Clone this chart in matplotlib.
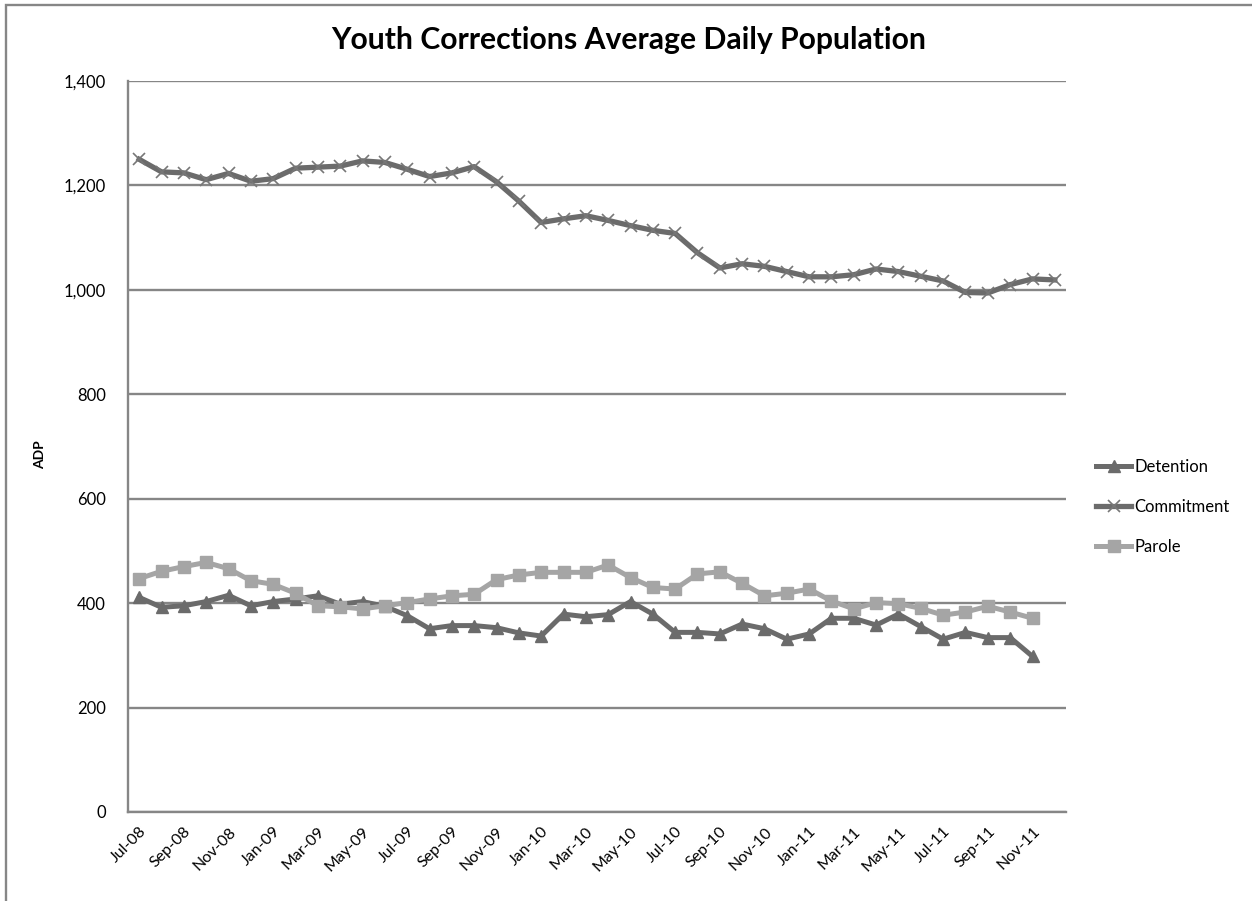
import matplotlib
matplotlib.use("Agg")
import matplotlib.pyplot as plt
from matplotlib.patches import Rectangle

months = ["Jul-08", "Aug-08", "Sep-08", "Oct-08", "Nov-08", "Dec-08",
          "Jan-09", "Feb-09", "Mar-09", "Apr-09", "May-09", "Jun-09",
          "Jul-09", "Aug-09", "Sep-09", "Oct-09", "Nov-09", "Dec-09",
          "Jan-10", "Feb-10", "Mar-10", "Apr-10", "May-10", "Jun-10",
          "Jul-10", "Aug-10", "Sep-10", "Oct-10", "Nov-10", "Dec-10",
          "Jan-11", "Feb-11", "Mar-11", "Apr-11", "May-11", "Jun-11",
          "Jul-11", "Aug-11", "Sep-11", "Oct-11", "Nov-11", "Dec-11"]

detention = [411, 392, 395, 403, 415, 395, 403, 408, 414, 398, 403, 394,
             376, 351, 357, 357, 353, 343, 337, 379, 374, 378, 403, 379,
             344, 344, 341, 360, 351, 331, 341, 371, 371, 358, 379, 355,
             331, 344, 334, 334, 298]

commitment = [1250, 1226, 1224, 1211, 1223, 1208, 1213, 1233, 1235, 1237,
              1247, 1244, 1231, 1217, 1224, 1236, 1207, 1170, 1129, 1136,
              1142, 1133, 1123, 1114, 1108, 1071, 1042, 1050, 1045, 1035,
              1025, 1025, 1029, 1040, 1035, 1026, 1017, 995, 994, 1010,
              1021, 1019]

parole = [447, 461, 470, 478, 466, 443, 436, 419, 395, 393, 389, 395,
          401, 408, 414, 417, 445, 454, 459, 459, 459, 473, 449, 430,
          427, 456, 460, 438, 414, 419, 427, 404, 389, 401, 399, 390,
          377, 383, 394, 383, 371]

yticks = [0, 200, 400, 600, 800, 1000, 1200, 1400]

FONT = ["Lato", "DejaVu Sans"]
plt.rcParams["font.family"] = FONT

W, H = 1252, 901
fig = plt.figure(figsize=(W / 100, H / 100), dpi=100)
ax = fig.add_axes([128 / W, 1 - 812 / H, (1066 - 128) / W, (812 - 81) / H])

grid_c = "#868686"
dark = "#6b6b6b"
light = "#a5a5a5"

x_all = list(range(len(months)))
ax.plot(x_all[:len(detention)], detention, color=dark, lw=3.6, marker="^",
        markersize=8, markerfacecolor=dark, markeredgecolor=dark, label="Detention", zorder=3)
ax.plot(x_all[:len(commitment)], commitment, color=dark, lw=3.8, marker="x",
        markersize=8, markeredgewidth=1.2, markeredgecolor="#777777", label="Commitment", zorder=3)
ax.plot(x_all[:len(parole)], parole, color=light, lw=3.6, marker="s",
        markersize=8, markerfacecolor=light, markeredgecolor=light, label="Parole", zorder=3)

ax.set_xlim(-0.5, len(months) - 0.5)
ax.set_ylim(0, 1400)
ax.set_yticks(yticks)
ax.set_yticklabels([f"{v:,}" for v in yticks], fontsize=12)
ax.yaxis.grid(True, color=grid_c, lw=1.7)
ax.set_axisbelow(True)

ax.set_xticks(x_all[::2])
ax.set_xticklabels(months[::2], rotation=45, ha="right", va="top",
                   rotation_mode="anchor", fontsize=11.5)
ax.tick_params(axis="both", length=0)
ax.tick_params(axis="y", pad=16)
ax.tick_params(axis="x", pad=9)

for s in ["top", "right"]:
    ax.spines[s].set_visible(False)
for s in ["left", "bottom"]:
    ax.spines[s].set_color(grid_c)
    ax.spines[s].set_linewidth(1.7)

fig.text(40 / W, 1 - 455 / H, "ADP", rotation=90, ha="center", va="center",
         fontsize=10, fontweight="bold")

fig.text(629 / W, 1 - 40 / H, "Youth Corrections Average Daily Population",
         ha="center", va="center", fontsize=21.7, fontweight="bold")

fig.legend(loc="upper left", bbox_to_anchor=(1096 / W, 1 - 459 / H),
           frameon=False, fontsize=12, handlelength=2.1, handletextpad=0.2,
           labelspacing=1.45, borderpad=0, borderaxespad=0)

fig.patches.append(Rectangle((6 / W, -0.1), 1.2, 1.1 - 5 / H,
                             transform=fig.transFigure, fill=False,
                             edgecolor=grid_c, lw=1.7))

fig.savefig("out.png", dpi=100, facecolor="white")
